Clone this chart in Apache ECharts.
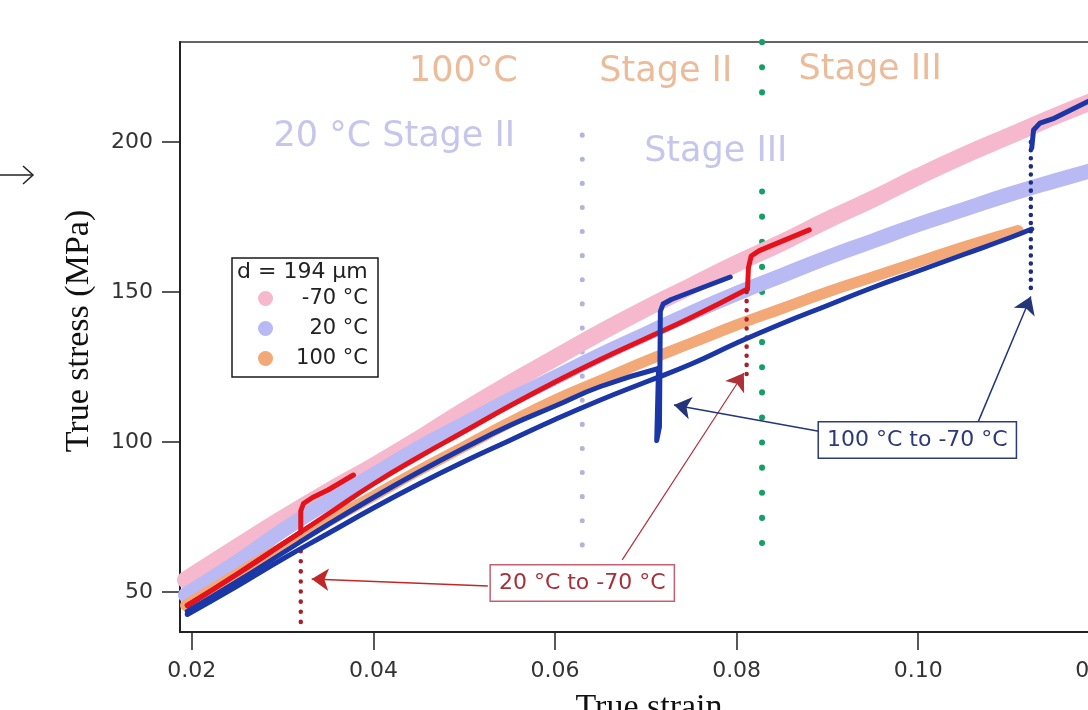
<!DOCTYPE html>
<html>
<head>
<meta charset="utf-8">
<script src="https://cdn.jsdelivr.net/npm/echarts@6/dist/echarts.min.js"></script>
<style>
html,body{margin:0;padding:0;background:#fff;}
#c{width:1088px;height:710px;}
</style>
</head>
<body>
<div id="c"></div>
<script>
// ---- axis ticks ----
const xTicks = [0.02, 0.04, 0.06, 0.08, 0.10, 0.12];
const yTicks = [50, 100, 150, 200];

// ---- reference bands (d = 194 um) [strain, stress MPa] ----
const refMinus70 = [[0.0193,54],[0.025,65],[0.03,74.5],[0.035,83.5],[0.04,92],[0.045,101],[0.05,110.5],[0.055,119.5],[0.06,128],[0.065,136.5],[0.07,144.5],[0.075,152],[0.08,159.5],[0.085,166.5],[0.09,174],[0.095,181],[0.10,188.5],[0.105,195.5],[0.11,202],[0.115,208.5],[0.122,217]];
const ref20 = [[0.0193,49],[0.025,60],[0.03,70.5],[0.035,80],[0.04,89],[0.045,98],[0.05,106],[0.055,114],[0.06,121.5],[0.065,129],[0.07,136],[0.075,143],[0.08,149.5],[0.085,155.5],[0.09,161.5],[0.095,167],[0.10,172.5],[0.105,177.5],[0.11,182.5],[0.115,187],[0.122,193]];
const ref100 = [[0.0193,45.5],[0.025,56],[0.03,65],[0.035,73.5],[0.04,82],[0.045,90.5],[0.05,98.5],[0.055,106.5],[0.06,114],[0.065,120.5],[0.07,127],[0.075,133],[0.08,139],[0.085,144.5],[0.09,150],[0.095,155],[0.10,160],[0.105,165],[0.111,170.5]];

// ---- 20 C -> -70 C tests ----
const redA_pre = [[0.0195,45.5],[0.025,56],[0.03,66],[0.032,70]];
const redA_post = [[0.032,70],[0.0320,77],[0.0323,79.5],[0.0333,81.5],[0.035,84],[0.0378,89]];
const redA_dots = [[0.0320,67],[0.0320,39.5]];
const redB_pre = [[0.0195,45.5],[0.025,56],[0.03,66],[0.035,76],[0.04,86],[0.045,95],[0.05,103.5],[0.055,112],[0.06,120],[0.065,127.5],[0.07,134.5],[0.075,141.5],[0.0812,151]];
const redB_post = [[0.0812,151],[0.0813,158],[0.0816,162],[0.0825,163.8],[0.088,170.7]];
const redB_dots = [[0.0811,150],[0.0811,122]];

// ---- 100 C -> -70 C tests ----
const blueA_pre = [[0.0195,43.5],[0.025,53.5],[0.03,63],[0.035,72.5],[0.04,81.5],[0.045,90],[0.05,98],[0.055,105.5],[0.06,112],[0.065,118.5],[0.0714,124.5]];
const blueA_post = [[0.0714,124.5],[0.0712,100.5],[0.0715,105],[0.0716,143.5],[0.0719,146],[0.0728,147.5],[0.0793,155]];
const blueB_pre = [[0.0195,42.5],[0.025,52],[0.03,61],[0.035,69.5],[0.04,78],[0.045,86],[0.05,93.5],[0.055,100.5],[0.06,107.5],[0.065,114],[0.07,120],[0.075,126],[0.08,133],[0.085,139.5],[0.09,145.5],[0.095,151.5],[0.10,157],[0.105,162.5],[0.11,168],[0.1125,171]];
const blueB_dots = [[0.1124,200],[0.1124,151]];
const blueB_post = [[0.1125,198],[0.1127,204],[0.1134,206.3],[0.1148,207.7],[0.1187,213.5],[0.122,216]];

// ---- stage boundaries ----
const stageLine20 = [[0.063,65.7],[0.063,203.5]];
const stageLine100Top = [[0.0828,233.3],[0.0828,214]];
const stageLine100Low = [[0.0828,183.5],[0.0828,66]];

// ---- annotation arrows [from, to] ----
const arrowRedA = [[0.0526,52],[0.0332,54.3]];
const arrowRedB = [[0.0674,60.7],[0.0808,123]];
const arrowBlueA = [[0.0892,103.5],[0.0731,112.3]];
const arrowBlueB = [[0.1066,106.7],[0.1124,148.5]];

// ---- text labels: [text, strain, stress] ----
const stageLabels100 = [['100°C',0.0499,223.3],['Stage II',0.0722,223.3],['Stage III',0.0947,224]];
const stageLabels20 = [['20 °C Stage II',0.0423,201.7],['Stage III',0.0777,196.7]];
const boxLabels = [['20 °C to -70 °C',0.0630,53,'#a8303a','#c46070'],['100 °C to -70 °C',0.0999,100.7,'#2c3a78','#2c3a78']];

const C_PINK = '#f5b8cc', C_LAV = '#b9b9f3', C_ORG = '#f3a877';
const C_RED = '#e3121b', C_RED_D = '#a8202c', C_BLUE = '#1b36a6', C_BLUE_D = '#1a2d86';

function band(name, data, color, w) {
  return {name, type:'line', data, showSymbol:false, smooth:true, z:3,
    lineStyle:{color, width:w, cap:'round', join:'round'}, itemStyle:{color}};
}
function solid(name, data, color, w, smooth, z) {
  return {name, type:'line', data, showSymbol:false, smooth:smooth, z:z||5,
    lineStyle:{color, width:w, cap:'round', join:'round'}, itemStyle:{color}};
}
function dotted(name, data, color, w, gap, z) {
  return {name, type:'line', data, showSymbol:false, z:z||5,
    lineStyle:{color, width:w, type:[0.1, gap], cap:'round'}, itemStyle:{color}};
}
function arrow(name, coords, color, w) {
  return {name, type:'lines', coordinateSystem:'cartesian2d', z:6,
    symbol:['none','arrow'], symbolSize:17,
    lineStyle:{color, width:w, opacity:1, curveness:0},
    data:[{coords}]};
}

const chart = echarts.init(document.getElementById('c'), null, {renderer:'canvas'});
const option = {
  animation:false,
  backgroundColor:'#fff',
  textStyle:{fontFamily:'DejaVu Sans'},
  grid:{left:180, top:42, right:-30, bottom:78, outerBoundsMode:'none', containLabel:false,
    show:true, borderColor:'#333', borderWidth:1.5, backgroundColor:'transparent'},
  xAxis:{type:'value', min:0.0187, max:0.122,
    name:'True strain', nameLocation:'middle', nameGap:59,
    nameTextStyle:{fontFamily:'Liberation Serif', fontSize:34, color:'#111'},
    axisLine:{show:true, onZero:false, lineStyle:{color:'#222', width:2}},
    axisTick:{show:true, inside:false, length:18, customValues:xTicks, lineStyle:{color:'#222', width:1.5}},
    axisLabel:{customValues:xTicks, margin:28, fontSize:22, color:'#333', formatter:v=>v.toFixed(2)},
    splitLine:{show:false}},
  yAxis:{type:'value', min:36.667, max:233.333,
    name:'True stress (MPa)', nameLocation:'middle', nameGap:84,
    nameTextStyle:{fontFamily:'Liberation Serif', fontSize:34, color:'#111', padding:[0,0,0,12]},
    axisLine:{show:true, onZero:false, lineStyle:{color:'#222', width:2}},
    axisTick:{show:true, inside:false, length:18, customValues:yTicks, lineStyle:{color:'#222', width:1.5}},
    axisLabel:{customValues:yTicks, margin:27, fontSize:22, color:'#333'},
    splitLine:{show:false}},
  legend:{data:['-70 °C','20 °C','100 °C'], orient:'vertical', left:232, top:258,
    padding:[30,10,8,26], itemGap:9, itemWidth:15, itemHeight:15, icon:'circle',
    borderColor:'#1a1a1a', borderWidth:1.5, backgroundColor:'#fff', z:10,
    formatter:n=>'{r|'+n+'}',
    textStyle:{fontFamily:'DejaVu Sans', fontSize:21, color:'#222',
      rich:{r:{width:90, align:'right', fontFamily:'DejaVu Sans', fontSize:21, color:'#222'}}}},
  series:[
    dotted('stage 20', stageLine20, '#b4b4d8', 5, 24, 1),
    dotted('stage 100 top', stageLine100Top, '#14a064', 6, 25, 1),
    dotted('stage 100 low', stageLine100Low, '#14a064', 6, 25, 1),
    band('-70 °C', refMinus70, C_PINK, 17),
    band('20 °C', ref20, C_LAV, 15),
    band('100 °C', ref100, C_ORG, 11),
    solid('20→-70 a', redA_pre, C_RED, 5, true),
    solid('20→-70 a jump', redA_post, C_RED, 5, false),
    dotted('20→-70 a dots', redA_dots, C_RED_D, 4.5, 10),
    solid('20→-70 b', redB_pre, C_RED, 5, true),
    solid('20→-70 b jump', redB_post, C_RED, 5, false),
    dotted('20→-70 b dots', redB_dots, C_RED_D, 4.5, 9),
    solid('100→-70 a', blueA_pre, C_BLUE, 5, true, 6),
    solid('100→-70 a jump', blueA_post, C_BLUE, 5, false, 6),
    solid('100→-70 b', blueB_pre, C_BLUE, 5, true, 6),
    dotted('100→-70 b dots', blueB_dots, C_BLUE_D, 4.5, 8, 6),
    solid('100→-70 b jump', blueB_post, C_BLUE, 5, false, 6),
    arrow('arrow ra', arrowRedA, '#c02828', 1.5),
    arrow('arrow rb', arrowRedB, '#b0303a', 1.2),
    arrow('arrow ba', arrowBlueA, '#24357a', 1.5),
    arrow('arrow bb', arrowBlueB, '#24357a', 1.5)
  ]
};
chart.setOption(option);

const P = (x,y) => chart.convertToPixel({gridIndex:0}, [x,y]);
const g = [];
stageLabels100.forEach(([t,x,y]) => { const p=P(x,y); g.push({type:'text', z:4, style:{text:t, x:p[0], y:p[1], align:'center', verticalAlign:'middle', font:'35px "DejaVu Sans"', fill:'#ebbb9a'}}); });
stageLabels20.forEach(([t,x,y]) => { const p=P(x,y); g.push({type:'text', z:4, style:{text:t, x:p[0], y:p[1], align:'center', verticalAlign:'middle', font:'35px "DejaVu Sans"', fill:'#c6c6ec'}}); });
boxLabels.forEach(([t,x,y,tc,bc]) => { const p=P(x,y); g.push({type:'text', z:20, style:{text:t, x:p[0], y:p[1], align:'center', verticalAlign:'middle', font:'22px "DejaVu Sans"', fill:tc, backgroundColor:'#fff', borderColor:bc, borderWidth:1.5, padding:[7,8,6,8]}}); });
g.push({type:'text', z:20, style:{text:'d = 194 µm', x:237, y:272, align:'left', verticalAlign:'middle', font:'22px "DejaVu Sans"', fill:'#222'}});
g.push({type:'line', shape:{x1:0,y1:175,x2:33,y2:175}, style:{stroke:'#222', lineWidth:1.5}});
g.push({type:'polyline', shape:{points:[[23,166],[33,175],[23,184]]}, style:{stroke:'#222', lineWidth:1.5, fill:null}});
chart.setOption({graphic:g});
</script>
</body>
</html>
